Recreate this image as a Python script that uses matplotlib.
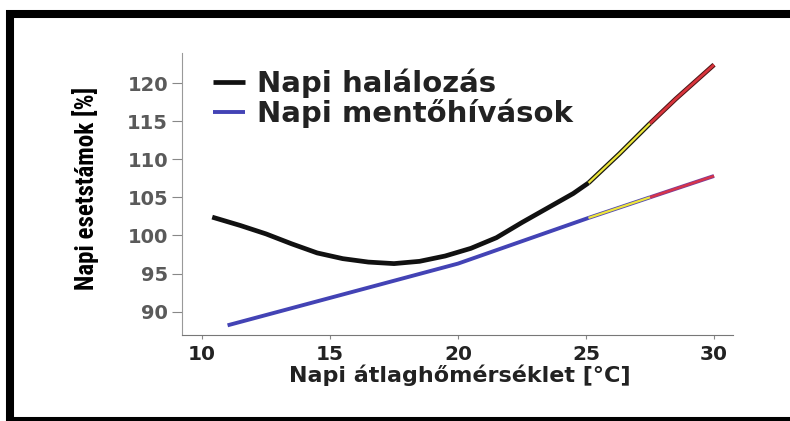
import matplotlib as mpl
mpl.use('Agg')
import matplotlib.pyplot as plt
from matplotlib.patches import Rectangle
from matplotlib import font_manager
import numpy as np

# daily mortality curve (% of baseline)
mort_temp = [10.4, 11.5, 12.5, 13.5, 14.5, 15.5, 16.5, 17.5, 18.5, 19.5, 20.5,
             21.5, 22.5, 23.5, 24.5, 25.1, 26.3, 27.5, 28.5, 29.5, 30.0]
mort_val = [102.4, 101.3, 100.2, 98.9, 97.7, 96.95, 96.5, 96.3, 96.6, 97.3, 98.3,
            99.7, 101.7, 103.6, 105.5, 106.9, 110.7, 114.7, 117.9, 120.9, 122.4]

# daily ambulance calls (% of baseline)
amb_temp = [11.0, 20.0, 25.1, 27.5, 30.0]
amb_val = [88.2, 96.3, 102.3, 105.0, 107.8]

# warning / alarm thresholds where the line colour changes
warn_t = 25.1
alarm_t = 27.5

x_ticks = [10, 15, 20, 25, 30]
y_ticks = [90, 95, 100, 105, 110, 115, 120]
legend_labels = ['Napi halálozás', 'Napi mentőhívások']


def narrow_font():
    names = {f.name for f in font_manager.fontManager.ttflist}
    for cand in ['Liberation Sans Narrow', 'Roboto Condensed', 'DejaVu Sans Condensed',
                 'Open Sans Condensed']:
        if cand in names:
            return cand, 18
    return 'DejaVu Sans', 14


W, H = 790, 421
fig = plt.figure(figsize=(W / 100, H / 100), dpi=100)
ax = fig.add_axes([182 / W, 1 - 335 / H, (733 - 182) / W, (335 - 53) / H])


def split(xs, ys):
    xs = np.array(xs)
    ys = np.array(ys)
    m1 = xs <= warn_t
    m2 = (xs >= warn_t) & (xs <= alarm_t)
    m3 = xs >= alarm_t
    return (xs[m1], ys[m1]), (xs[m2], ys[m2]), (xs[m3], ys[m3])


# mortality line
(a, b), (c, d), (e, f) = split(mort_temp, mort_val)
ax.plot(a, b, color='#111111', lw=3.4, solid_capstyle='butt', solid_joinstyle='round',
        label=legend_labels[0])
ax.plot(c, d, color='#1a1a10', lw=3.4, solid_capstyle='butt')
ax.plot(c, d, color='#ece63c', lw=1.6, solid_capstyle='butt')
ax.plot(e, f, color='#4a1414', lw=3.4, solid_capstyle='butt')
ax.plot(e, f, color='#d8343c', lw=2.0, solid_capstyle='butt')

# ambulance calls line
(a, b), (c, d), (e, f) = split(amb_temp, amb_val)
ax.plot(a, b, color='#4343b5', lw=2.8, solid_capstyle='butt', label=legend_labels[1])
ax.plot(c, d, color='#5048b0', lw=2.8, solid_capstyle='butt')
ax.plot(c, d, color='#eee63a', lw=1.6, solid_capstyle='butt')
ax.plot(e, f, color='#7a3c9a', lw=2.8, solid_capstyle='butt')
ax.plot(e, f, color='#d83448', lw=1.7, solid_capstyle='butt')

ax.set_xlim(9.22, 30.74)
ax.set_ylim(86.93, 123.94)
ax.set_xticks(x_ticks)
ax.set_yticks(y_ticks)

for s in ['top', 'right']:
    ax.spines[s].set_visible(False)
ax.spines['left'].set_color('#999999')
ax.spines['bottom'].set_color('#777777')
ax.spines['left'].set_linewidth(0.8)
ax.spines['bottom'].set_linewidth(0.8)

ax.tick_params(axis='y', direction='out', length=7, width=0.8, color='#888888',
               pad=3, labelsize=14, labelcolor='#5a5a5a')
ax.tick_params(axis='x', direction='out', length=3, width=0.8, color='#888888',
               pad=4, labelsize=14.5, labelcolor='#222222')
for t in ax.get_xticklabels() + ax.get_yticklabels():
    t.set_fontweight('bold')

leg = ax.legend(loc='upper left', bbox_to_anchor=(213 / W, 1 - 69 / H),
                bbox_transform=fig.transFigure, frameon=False,
                prop={'size': 21, 'weight': 'bold'}, handlelength=1.1,
                handletextpad=0.42, labelspacing=0.0, borderpad=0,
                borderaxespad=0)
for t in leg.get_texts():
    t.set_color('#222222')

fig.text(460 / W, 1 - 375 / H, 'Napi átlaghőmérséklet [°C]', ha='center',
         va='center', fontsize=16, fontweight='bold', color='#222222')
ylab_font, ylab_size = narrow_font()
fig.text(86 / W, 1 - 188 / H, 'Napi esetstámok [%]', rotation=90, ha='center',
         va='center', fontsize=ylab_size, fontweight='bold', color='black',
         family=ylab_font)

# black frame around the picture (right edge cut off)
fig.add_artist(Rectangle((10 / W, 0), 800 / W, 1 - 13.5 / H,
                         transform=fig.transFigure, fill=False, lw=5.8,
                         ec='black', clip_on=False))

fig.savefig('out.png', dpi=100)
